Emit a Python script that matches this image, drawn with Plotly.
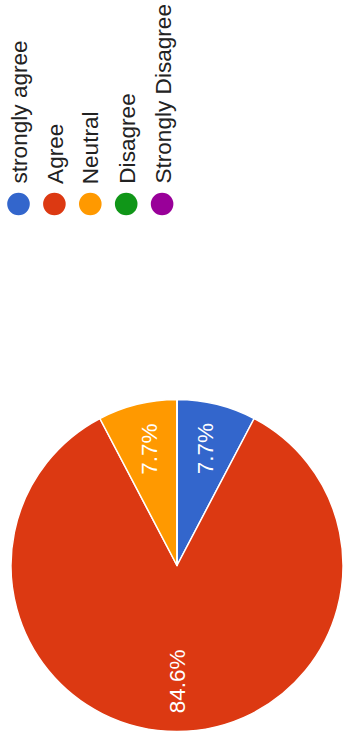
import math
import plotly.graph_objects as go

# Survey responses
categories = ["strongly agree", "Agree", "Neutral", "Disagree", "Strongly Disagree"]
counts = [1, 11, 1, 0, 0]
colors = ["#3366cc", "#dc3912", "#ff9900", "#109618", "#990099"]

W, H = 343, 740
FONT = "Liberation Sans, Arial, sans-serif"

# pie geometry (pixels)
PIE_CX, PIE_CY, PIE_R = 177, 565.5, 166


def px_x(x):
    return x / W


def px_y(y):
    return 1 - y / H


fig = go.Figure(
    go.Pie(
        labels=categories,
        values=counts,
        marker=dict(colors=colors, line=dict(color="white", width=1.5)),
        sort=False,
        direction="clockwise",
        rotation=0,
        textinfo="none",
        hoverinfo="label+percent",
        showlegend=False,
        domain=dict(
            x=[px_x(PIE_CX - PIE_R), px_x(PIE_CX + PIE_R)],
            y=[px_y(PIE_CY + PIE_R), px_y(PIE_CY - PIE_R)],
        ),
    )
)

annotations = []
shapes = []

# percentage labels, drawn vertically at each slice's mid angle
total = sum(counts)
start = 0.0
for cat, v in zip(categories, counts):
    if v <= 0:
        continue
    frac = v / total
    mid = (start + frac / 2) * 2 * math.pi
    start += frac
    lx = PIE_CX + 0.71 * PIE_R * math.sin(mid)
    ly = PIE_CY - 0.71 * PIE_R * math.cos(mid)
    annotations.append(
        dict(
            text=f"{frac * 100:.1f}%",
            x=px_x(lx), y=px_y(ly - 2), xref="paper", yref="paper",
            xanchor="center", yanchor="middle",
            textangle=-90, showarrow=False,
            font=dict(family=FONT, size=22.5, color="white"),
        )
    )

# vertical legend along the top edge
LEG_X0, LEG_STEP, LEG_DOT_Y, LEG_TEXT_END, DOT_R = 18.5, 35.9, 204, 186, 11.3
for i, (cat, col) in enumerate(zip(categories, colors)):
    cx = LEG_X0 + i * LEG_STEP
    shapes.append(
        dict(
            type="circle", xref="paper", yref="paper",
            xsizemode="pixel", ysizemode="pixel",
            xanchor=px_x(cx), yanchor=px_y(LEG_DOT_Y),
            x0=-DOT_R, x1=DOT_R, y0=-DOT_R, y1=DOT_R,
            fillcolor=col, line=dict(width=0),
        )
    )
    annotations.append(
        dict(
            text=cat,
            x=px_x(cx + 0.5), y=px_y(LEG_TEXT_END), xref="paper", yref="paper",
            xanchor="center", yanchor="bottom",
            textangle=-90, showarrow=False,
            font=dict(family=FONT, size=22.6, color="#222222"),
        )
    )

fig.update_layout(
    width=W, height=H,
    margin=dict(l=0, r=0, t=0, b=0),
    paper_bgcolor="white", plot_bgcolor="white",
    annotations=annotations, shapes=shapes,
)

fig.write_html("out.html")
